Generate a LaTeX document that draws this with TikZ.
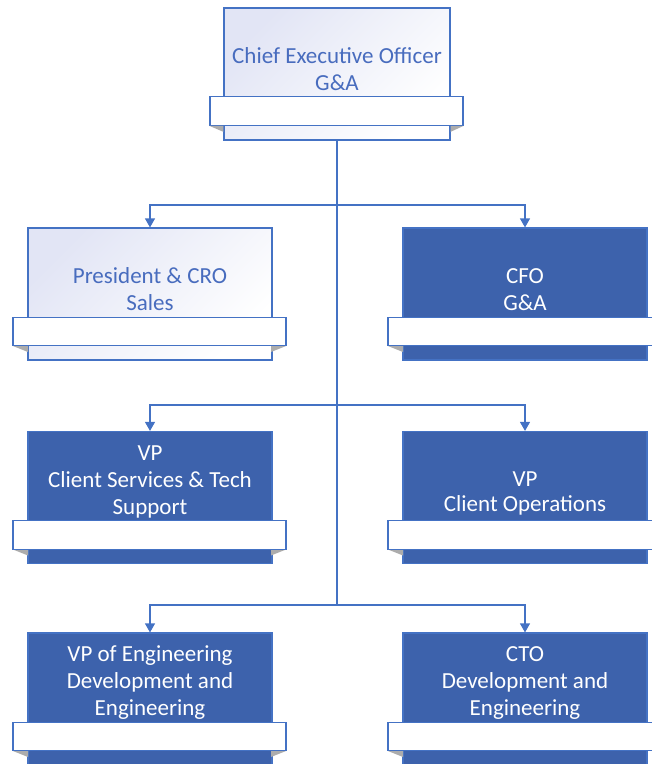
\documentclass[tikz,border=0pt]{standalone}
\usepackage{fontspec}
\setmainfont{Carlito}
\usetikzlibrary{arrows.meta}

\definecolor{orgblue}{RGB}{68,114,196}
\definecolor{orgdark}{RGB}{61,98,172}
\definecolor{orglight}{RGB}{226,229,245}
\definecolor{orgtext}{RGB}{72,108,190}

\tikzset{
  post/.style={rectangle, draw=orgblue, line width=1.2pt, minimum width=244pt, minimum height=132pt, inner sep=0pt},
  lightpost/.style={post, top color=orglight, bottom color=white, shading angle=45},
  darkpost/.style={post, fill=orgdark},
  ribbon/.style={rectangle, draw=orgblue, fill=white, line width=1.2pt, minimum width=273pt, minimum height=28.5pt, inner sep=0pt},
  fold/.style={fill=gray!65},
  title/.style={anchor=south, align=center, inner sep=0pt, font=\fontsize{23}{27}\selectfont},
  lighttitle/.style={title, text=orgtext},
  darktitle/.style={title, text=white},
  link/.style={draw=orgblue, line width=1.2pt},
  arrow/.style={link, -{Triangle[width=10pt,length=9pt]}}
}

\begin{document}
\begin{tikzpicture}[x=1pt,y=-1pt]
	\useasboundingbox (0,0) rectangle (652,764);
	\clip (0,0) rectangle (652,764);

	% chief executive
	\node[lightpost, minimum width=226pt] (ceo) at (337,74) {};
	\node[ribbon, minimum width=253pt] (ceo-r) at (336.5,111) {};
	\node[lighttitle] (ceo-t) at (337,99) {Chief Executive Officer\\G\&A\strut};

	% second row
	\node[lightpost] (pres) at (150,294) {};
	\node[lighttitle] (pres-t) at (150,319) {President \& CRO\\Sales\strut};
	\node[darkpost] (cfo) at (525,294) {};
	\node[darktitle] (cfo-t) at (525,319) {CFO\\G\&A\strut};

	% third row
	\node[darkpost] (vpcs) at (150,497.5) {};
	\node[darktitle] (vpcs-t) at (150,523) {VP\\Client Services \& Tech\\Support\strut};
	\node[darkpost] (vpco) at (525,497.5) {};
	\node[darktitle, font=\fontsize{23}{25}\selectfont] (vpco-t) at (525,519) {VP\\Client Operations\strut};

	% fourth row
	\node[darkpost] (vpeng) at (150,699) {};
	\node[darktitle] (vpeng-t) at (150,724) {VP of Engineering\\Development and\\Engineering\strut};
	\node[darkpost] (cto) at (525,699) {};
	\node[darktitle] (cto-t) at (525,724) {CTO\\Development and\\Engineering\strut};

	% folds under the ribbons
	\fill[fold] (ceo-r.south west) -- (ceo.west |- ceo-r.south) -- ++(0,6) -- cycle;
	\fill[fold] (ceo-r.south east) -- (ceo.east |- ceo-r.south) -- ++(0,6) -- cycle;
	\fill[fold] (149.5,346) ++(-136.5,0) -- ++(15,0) -- ++(0,6) -- cycle;
	\fill[fold] (149.5,346) ++(136.5,0) -- ++(-15,0) -- ++(0,6) -- cycle;
	\fill[fold] (524.5,346) ++(-136.5,0) -- ++(15,0) -- ++(0,6) -- cycle;
	\fill[fold] (149.5,549.5) ++(-136.5,0) -- ++(15,0) -- ++(0,6) -- cycle;
	\fill[fold] (149.5,549.5) ++(136.5,0) -- ++(-15,0) -- ++(0,6) -- cycle;
	\fill[fold] (524.5,549.5) ++(-136.5,0) -- ++(15,0) -- ++(0,6) -- cycle;
	\fill[fold] (149.5,751) ++(-136.5,0) -- ++(15,0) -- ++(0,6) -- cycle;
	\fill[fold] (149.5,751) ++(136.5,0) -- ++(-15,0) -- ++(0,6) -- cycle;
	\fill[fold] (524.5,751) ++(-136.5,0) -- ++(15,0) -- ++(0,6) -- cycle;

	% ribbons
	\node[ribbon] (pres-r) at (149.5,331.5) {};
	\node[ribbon] (cfo-r) at (524.5,331.5) {};
	\node[ribbon] (vpcs-r) at (149.5,535) {};
	\node[ribbon] (vpco-r) at (524.5,535) {};
	\node[ribbon] (vpeng-r) at (149.5,736.5) {};
	\node[ribbon] (cto-r) at (524.5,736.5) {};

	% reporting lines
	\coordinate (j1) at (337,205);
	\coordinate (j2) at (337,405);
	\coordinate (j3) at (337,605);
	\draw[link] (ceo.south) -- (j3);
	\draw[arrow] (j1) -| (pres.north);
	\draw[arrow] (j1) -| (cfo.north);
	\draw[arrow] (j2) -| (vpcs.north);
	\draw[arrow] (j2) -| (vpco.north);
	\draw[arrow] (j3) -| (vpeng.north);
	\draw[arrow] (j3) -| (cto.north);
\end{tikzpicture}
\end{document}
